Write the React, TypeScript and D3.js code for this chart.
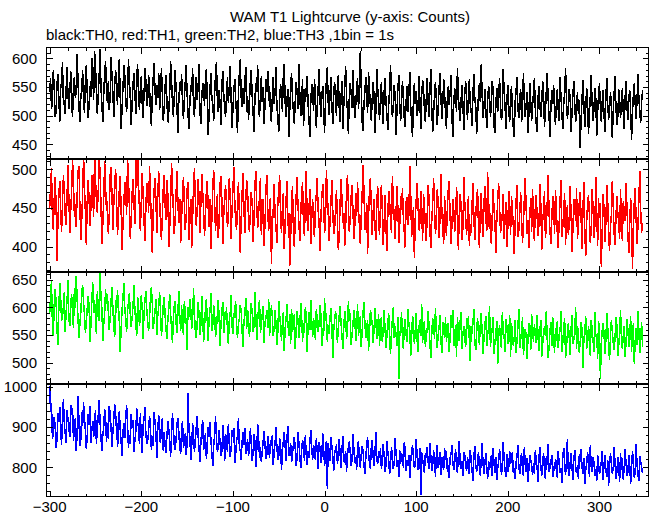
import React from "react";
import * as d3 from "d3";

const TITLE = "WAM T1 Lightcurve (y-axis: Counts)";
const SUBTITLE = "black:TH0, red:TH1, green:TH2, blue:TH3 ,1bin = 1s";
const START_TIME = -300;
const X_TICKS = [-300, -200, -100, 0, 100, 200, 300];

const TH0 = [
541,566,512,523,580,547,498,506,555,572,531,489,547,560,594,519,527,503,548,585,536,512,541,577,
522,497,553,568,531,540,607,558,515,489,532,546,579,523,505,561,588,540,496,517,552,533,600,571,
528,612,589,542,503,536,568,617,550,519,488,537,574,596,545,522,560,509,532,603,571,538,497,555,
580,546,519,562,599,533,477,512,549,588,570,525,507,541,598,563,530,484,521,556,575,540,503,568,
590,531,510,547,569,522,496,538,583,560,517,529,571,549,505,482,536,566,592,541,518,553,530,574,
509,545,583,536,491,514,552,570,524,488,507,541,596,563,522,498,536,579,547,511,470,528,559,543,
572,520,494,531,560,589,537,503,476,522,554,541,583,515,498,536,568,527,551,590,506,485,532,557,
545,517,563,582,529,466,503,549,575,532,519,491,538,571,594,527,506,544,520,483,556,578,538,512,
498,536,567,522,549,586,530,479,511,545,563,527,502,469,540,574,598,533,515,548,521,560,585,507,
534,493,520,561,579,536,506,472,528,557,541,588,515,497,533,569,524,550,486,519,563,542,578,526,
551,502,489,533,567,521,540,584,516,495,472,528,555,539,506,571,590,524,497,530,546,463,508,552,
575,531,507,486,524,558,543,512,590,538,499,527,564,481,510,548,533,570,520,492,463,526,555,541,
508,563,536,479,518,547,582,529,497,535,552,513,470,528,561,584,522,501,539,568,516,485,542,559,
524,499,553,570,515,488,534,561,477,520,549,586,531,507,468,532,556,540,513,579,526,495,518,547,
566,512,538,612,551,489,473,520,543,567,530,504,576,548,516,491,529,559,535,470,508,582,547,521,
493,530,558,519,486,541,566,525,502,475,518,547,589,530,497,514,553,535,466,507,548,571,522,490,
520,561,533,495,480,526,552,507,538,577,516,489,462,531,556,520,543,499,513,570,528,476,535,562,
547,508,489,531,566,523,497,545,582,512,471,504,537,559,526,483,515,550,575,531,494,520,563,538,
505,476,532,551,518,540,571,498,463,522,548,531,506,584,537,509,490,527,554,519,475,538,561,526,
492,535,563,520,507,481,543,572,529,514,468,501,540,557,523,590,534,496,518,546,509,478,527,552,
537,498,516,560,545,481,470,523,548,507,535,566,519,492,503,582,540,515,476,528,554,510,489,533,
551,507,478,462,525,543,568,514,495,530,547,489,508,575,530,498,519,541,470,502,557,524,491,517,
540,566,509,486,472,531,552,518,497,523,561,536,480,507,543,574,528,499,462,515,545,520,553,505,
484,523,547,510,491,568,533,502,476,519,541,583,526,495,510,546,531,472,504,537,560,521,488,514,
542,503,527,443,497,530,563,518,480,512,549,526,467,501,535,571,520,490,512,548,529,464,506,538,
556,515,489,524,545,500,472,533,565,520,493,510,541,522,460,507,538,569,514,483,499,546,528,495,
521,548,504,477,532,561,515,492,529,545,510,458,503,537,556,519,494,527,572,530,505,488,523,544,
];

const TH1 = [
449,478,501,437,421,462,490,455,382,430,468,485,446,419,457,492,473,440,428,466,505,461,418,447,
473,512,482,439,455,426,467,498,504,451,409,434,470,518,477,443,402,458,486,463,427,449,493,466,
438,521,489,460,444,471,515,497,453,404,429,462,510,478,446,459,417,440,492,503,468,422,455,481,
500,462,415,437,473,491,448,396,429,457,483,470,441,514,486,452,410,438,469,487,455,429,519,476,
516,481,447,420,459,495,466,433,407,451,482,476,444,504,468,431,392,447,473,489,458,418,465,497,
462,428,409,441,476,493,452,435,486,467,400,425,458,508,479,446,416,438,470,497,455,430,461,405,
437,469,490,454,421,440,474,483,409,443,462,398,436,478,501,459,427,448,487,466,418,455,494,472,
446,414,439,471,485,450,426,462,397,436,477,499,458,420,445,468,411,433,482,491,457,403,441,465,
479,452,425,438,488,466,410,447,474,503,459,431,422,455,483,444,392,437,469,495,451,418,460,486,
473,434,419,443,471,457,406,435,480,497,452,424,441,466,489,415,446,461,401,430,475,492,448,420,
456,463,378,429,448,481,440,425,405,456,474,492,436,418,451,469,397,433,460,485,427,444,375,411,
458,478,421,399,437,466,490,452,430,408,441,471,483,426,414,459,497,435,420,448,475,403,439,462,
425,412,453,467,488,447,432,395,438,464,481,456,418,429,499,470,441,407,434,459,486,445,416,423,
450,473,437,396,413,458,487,462,430,444,401,424,476,493,453,419,436,465,480,447,410,428,469,439,
484,449,427,404,440,467,506,472,422,433,456,391,438,474,489,452,415,445,461,426,409,457,478,431,
415,455,480,448,402,430,467,426,395,441,472,458,433,418,491,462,436,410,444,478,451,405,427,466,
447,476,436,419,399,458,464,428,441,504,469,412,433,451,385,438,460,482,455,421,430,472,445,408,
468,453,426,407,440,479,463,420,398,435,456,488,449,416,430,474,458,411,437,494,446,423,404,465,
432,414,450,473,485,439,403,427,461,447,419,434,477,458,396,442,468,453,409,425,490,457,436,415,
444,466,401,429,418,455,482,436,409,440,462,475,422,398,451,469,431,413,457,478,438,420,496,426,
455,416,403,441,474,447,429,392,435,463,482,451,418,426,444,468,410,438,457,400,424,472,449,415,
466,446,427,390,432,458,479,413,421,443,470,437,405,428,461,489,450,417,434,398,441,463,419,475,
425,407,452,467,438,414,429,481,455,396,433,446,472,411,424,457,492,443,420,404,436,465,450,416,
473,445,418,399,430,460,486,412,426,447,469,402,437,454,415,428,478,444,393,421,462,451,433,476,
410,427,458,471,436,397,449,483,419,388,431,455,466,442,405,423,475,452,411,428,490,445,401,463,
437,456,374,420,468,448,406,432,479,459,413,395,426,441,485,453,417,402,438,466,444,429,410,474,
424,408,459,446,433,482,451,415,392,428,463,440,371,420,457,476,435,404,426,461,497,447,418,431,
];

const TH2 = [
589,622,648,571,548,605,633,610,560,532,598,645,617,575,584,601,628,555,593,612,650,579,567,608,
624,587,563,636,600,658,615,578,545,570,592,627,641,609,586,554,573,598,620,604,538,566,611,646,
590,613,582,551,629,602,576,662,619,597,540,569,588,633,606,625,592,559,580,611,638,599,563,547,
614,590,631,606,574,520,562,595,617,644,600,578,556,593,611,627,586,565,582,603,640,597,570,549,
619,604,566,584,622,599,543,589,613,630,596,572,557,581,618,637,606,561,576,594,615,550,585,601,
628,592,548,571,606,619,585,560,542,577,598,625,589,563,536,580,603,612,572,553,594,630,583,557,
604,566,551,612,589,574,523,600,582,615,596,561,578,635,587,556,545,573,609,591,550,568,620,584,
537,563,599,616,575,540,581,593,627,558,569,604,590,547,562,586,614,578,531,571,597,610,554,592,
577,601,560,533,576,589,622,567,552,583,597,611,564,544,570,579,605,593,557,528,574,586,618,561,
596,582,546,572,608,591,555,566,628,584,541,577,599,613,553,569,588,602,536,574,580,595,562,616,
549,577,604,583,548,560,595,571,532,555,611,586,566,540,574,592,521,563,580,607,570,549,589,534,
598,556,569,588,525,561,594,577,544,567,608,583,538,572,553,600,585,519,566,591,559,614,576,547,
581,563,541,597,579,555,570,604,588,530,562,548,617,576,590,537,568,552,583,599,566,509,558,578,
593,574,536,560,586,602,571,549,525,565,593,580,543,557,612,575,589,532,551,568,596,581,539,563,
607,548,567,584,528,556,591,610,573,545,562,578,521,553,595,586,570,536,559,599,576,542,566,588,
531,569,582,538,555,596,561,527,548,574,589,540,515,556,578,601,545,566,552,530,583,470,547,563,
592,543,524,566,579,551,537,598,570,558,512,546,585,572,533,556,590,541,520,563,577,549,606,535,
568,576,529,547,561,593,567,534,508,554,580,571,542,599,557,526,550,564,586,539,518,573,559,545,
582,538,555,572,519,546,587,563,596,531,548,569,511,583,558,540,576,592,525,553,566,544,528,580,
561,585,541,502,567,552,575,598,537,523,560,581,549,532,571,590,555,516,546,569,584,530,551,563,
603,528,547,562,583,515,537,556,575,498,552,568,541,526,591,559,545,520,579,566,534,549,587,510,
571,554,531,545,578,518,539,565,597,527,542,557,583,513,536,561,550,506,544,572,568,523,588,559,
538,570,552,535,587,546,521,560,578,511,533,555,566,548,594,541,509,526,557,573,530,582,544,518,
563,540,576,527,549,558,593,519,537,565,580,508,529,551,571,545,514,562,586,534,541,556,600,524,
567,553,517,538,574,561,490,543,556,584,525,532,567,549,512,578,560,539,520,591,546,552,507,575,
564,470,534,559,572,552,516,541,589,563,528,504,548,577,557,536,523,545,583,569,512,530,554,596,
538,525,550,567,511,537,579,561,529,546,585,520,555,571,498,540,563,532,594,558,517,545,574,528,
];

const TH3 = [
1002,938,959,871,880,925,902,848,867,935,912,950,889,856,924,970,907,882,861,941,918,897,874,955,
931,947,865,895,922,840,886,978,913,853,869,937,902,961,920,890,846,877,933,905,952,860,891,915,
874,908,943,858,892,928,967,915,872,839,881,899,945,926,863,910,870,953,936,898,851,887,921,957,
902,927,851,869,940,893,862,828,887,910,873,921,955,904,848,880,857,931,898,916,838,866,889,947,
913,896,857,934,871,835,906,920,949,882,859,865,891,928,900,842,877,853,938,911,884,822,895,930,
872,860,903,921,841,888,852,836,879,914,893,867,825,880,935,898,855,843,871,907,923,886,846,833,
896,915,848,863,884,831,857,985,891,875,818,850,909,882,838,866,900,927,877,845,813,859,894,918,
842,861,885,820,848,899,874,912,867,835,803,853,880,926,871,839,846,893,862,828,841,904,877,816,
883,869,837,908,857,826,845,892,874,898,811,832,866,878,921,851,840,819,863,886,854,896,833,849,
871,829,847,896,858,815,836,882,863,801,842,907,874,824,850,812,839,866,889,857,820,831,878,846,
823,868,853,880,806,834,861,899,848,818,826,872,856,793,840,864,886,851,815,874,903,828,837,859,
812,834,857,876,846,803,821,888,860,829,797,842,868,851,816,879,831,806,839,823,864,893,848,818,
855,841,817,872,838,795,862,850,810,826,884,845,803,832,866,745,859,838,815,874,852,827,790,843,
836,857,808,824,869,833,797,846,878,812,820,841,788,829,850,864,836,803,817,882,845,811,826,793,
848,866,815,799,832,853,841,806,784,822,859,874,837,810,796,851,868,827,802,834,887,818,809,840,
822,847,796,813,858,830,789,805,866,839,818,782,807,851,826,795,812,873,835,800,817,776,843,808,
834,826,799,862,845,790,818,803,831,772,814,840,855,823,797,808,870,829,793,811,848,730,837,821,
801,786,836,822,849,814,795,861,827,790,805,842,819,776,832,856,798,810,838,781,825,803,794,847,
817,840,789,806,772,824,833,854,811,793,820,845,799,785,828,866,807,796,815,778,837,829,804,790,
826,808,782,843,819,791,765,829,852,803,787,814,838,796,778,821,859,806,784,811,834,798,771,816,
793,812,830,779,848,806,786,824,768,799,815,845,822,781,803,862,817,790,775,833,788,801,840,808,
820,838,785,797,770,811,827,855,804,782,816,836,793,778,849,809,789,823,764,796,831,818,805,780,
809,783,842,818,797,764,825,851,802,779,813,836,792,771,827,806,857,787,798,815,830,776,803,790,
821,808,774,839,812,786,797,760,829,848,803,781,816,870,792,778,810,834,800,767,819,843,795,785,
805,771,832,814,846,798,783,822,759,793,808,837,817,776,855,801,788,826,812,779,796,765,831,809,
782,796,815,841,768,807,829,791,775,818,753,803,836,812,784,797,850,809,771,788,825,800,762,834,
793,822,769,801,846,810,778,787,831,805,759,796,840,816,773,790,858,808,781,766,827,814,799,785,
];

const SERIES = [TH0, TH1, TH2, TH3];
const COLORS = ["#000000", "#ff0000", "#00ff00", "#0000ff"];
const Y_DOMAINS: [number, number][] = [[425, 619], [368, 512.5], [462, 663.5], [727, 1005.5]];
const Y_MAJOR = [[450, 500, 550, 600], [400, 450, 500], [500, 550, 600, 650], [800, 900, 1000]];
const Y_MINOR_STEP = [10, 10, 10, 20];

const W = 652;
const H = 515;
const LEFT = 46;
const RIGHT = 648;
const TOP = 47;
const PANEL_STEP = 112.25;
const FONT = "'Liberation Sans', Arial, Helvetica, sans-serif";
const FS = 15;

export default function App() {
  const x = d3.scaleLinear().domain([-304, 353.5]).range([LEFT, RIGHT + 0.5]);
  const xMinor = d3.range(-300, 351, 20);

  const panels = SERIES.map((data, i) => {
    const top = Math.round(TOP + i * PANEL_STEP);
    const bottom = i === 3 ? 496 : Math.round(TOP + (i + 1) * PANEL_STEP) - 1;
    const y = d3.scaleLinear().domain(Y_DOMAINS[i]).range([bottom + 0.5, top + 0.5]);
    const line = d3
      .line<number>()
      .x((_, j) => x(START_TIME + j))
      .y((d) => y(d));
    const [lo, hi] = Y_DOMAINS[i];
    const step = Y_MINOR_STEP[i];
    const minor = d3.range(Math.ceil(lo / step) * step, hi, step);
    return { data, top, bottom, y, line, minor, i };
  });

  return (
    <svg
      width={W}
      height={H}
      style={{ position: "absolute", left: 0, top: 0, background: "#fff" }}
      fontFamily={FONT}
    >
      <rect x={0} y={0} width={W} height={H} fill="#fff" />
      <text x={350} y={22} textAnchor="middle" fontSize={FS} fill="#000">
        {TITLE}
      </text>
      <text x={46} y={40} fontSize={FS} fill="#000">
        {SUBTITLE}
      </text>
      <defs>
        {panels.map((p) => (
          <clipPath id={`clip${p.i}`} key={p.i}>
            <rect x={LEFT} y={p.top} width={RIGHT - LEFT + 1} height={p.bottom - p.top + 1} />
          </clipPath>
        ))}
      </defs>
      {panels.map((p) => (
        <g key={p.i}>
          <path
            d={p.line(p.data) || ""}
            fill="none"
            stroke={COLORS[p.i]}
            strokeWidth={1.5}
            strokeLinejoin="miter"
            strokeMiterlimit={2}
            clipPath={`url(#clip${p.i})`}
            shapeRendering="crispEdges"
          />
          <rect
            x={LEFT + 0.5}
            y={p.top + 0.5}
            width={RIGHT - LEFT}
            height={p.bottom - p.top}
            fill="none"
            stroke="#000"
            strokeWidth={1}
            shapeRendering="crispEdges"
          />
          {xMinor.map((t) => {
            const len = t % 100 === 0 ? 6 : 3;
            const xx = Math.round(x(t)) + 0.5;
            return (
              <g key={`xt${t}`} stroke="#000" strokeWidth={1} shapeRendering="crispEdges">
                <line x1={xx} x2={xx} y1={p.bottom + 0.5} y2={p.bottom + 0.5 - len} />
                <line x1={xx} x2={xx} y1={p.top + 0.5} y2={p.top + 0.5 + len} />
              </g>
            );
          })}
          {p.minor.map((t) => {
            const major = Y_MAJOR[p.i].includes(t);
            const len = major ? 6 : 3;
            const yy = Math.round(p.y(t)) + 0.5;
            return (
              <g key={`yt${t}`} stroke="#000" strokeWidth={1} shapeRendering="crispEdges">
                <line x1={LEFT + 0.5} x2={LEFT + 0.5 + len} y1={yy} y2={yy} />
                <line x1={RIGHT + 0.5} x2={RIGHT + 0.5 - len} y1={yy} y2={yy} />
              </g>
            );
          })}
          {Y_MAJOR[p.i].map((t) => (
            <text
              key={`yl${t}`}
              x={37}
              y={p.y(t)}
              dy="0.36em"
              textAnchor="end"
              fontSize={FS}
              fill="#000"
            >
              {t}
            </text>
          ))}
        </g>
      ))}
      {X_TICKS.map((t) => (
        <text key={`xl${t}`} x={x(t)} y={512} textAnchor="middle" fontSize={FS} fill="#000">
          {t < 0 ? `\u2212${Math.abs(t)}` : `${t}`}
        </text>
      ))}
    </svg>
  );
}
